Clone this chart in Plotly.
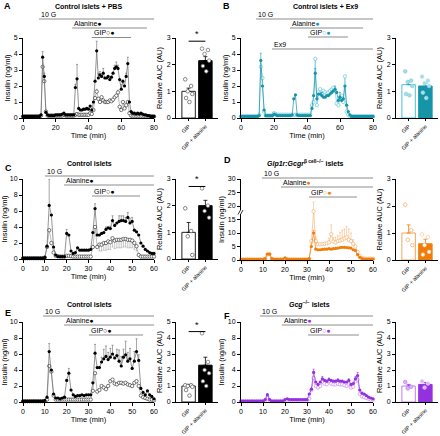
import plotly.graph_objects as go

W, H = 440, 436
FONT = "Liberation Sans, Arial, sans-serif"

t80 = list(range(81))
t60 = list(range(61))

# ---------------- Panel A (Control islets + PBS) ----------------
A_gip = [0.1, 0.1, 0.1, 0.1, 0.1, 0.1, 0.1, 0.1, 0.1, 0.1,
         0.1, 0.15, 3.2, 2.3, 0.4, 0.15, 0.15, 0.15, 0.15, 0.15,
         0.15, 0.15, 0.15, 0.15, 0.15, 0.2, 0.15, 0.15, 0.15, 0.15,
         0.15, 0.15, 0.2, 0.25, 0.2, 0.2, 0.2, 0.2, 0.2, 0.2,
         0.2, 0.3, 0.25, 0.5, 1.25, 1.65, 1.2, 1.0, 1.3, 1.1,
         1.0, 1.0, 1.0, 1.1, 1.05, 1.15, 1.3, 1.4, 1.6, 0.7,
         0.5, 1.0, 0.6, 0.8, 1.0, 0.3, 0.15, 0.1, 0.1, 0.1,
         0.1, 0.1, 0.1, 0.1, 0.1, 0.1, 0.1, 0.1, 0.1, 0.1,
         0.1]
A_ala = [0.1, 0.1, 0.1, 0.1, 0.1, 0.1, 0.1, 0.1, 0.1, 0.1,
         0.1, 0.2, 3.8, 2.6, 0.35, 0.2, 0.15, 0.15, 0.15, 0.15,
         0.2, 0.2, 0.2, 0.2, 0.25, 0.3, 0.2, 0.2, 0.2, 0.2,
         0.2, 0.2, 1.9, 2.45, 0.6, 0.5, 0.5, 0.55, 0.55, 0.6,
         0.55, 0.75, 0.5, 1.0, 2.3, 4.2, 2.5, 2.7, 2.6, 2.8,
         2.5, 2.5, 2.6, 2.4, 2.55, 2.8, 3.1, 3.2, 3.1, 2.4,
         1.8, 2.3, 2.0, 2.6, 3.4, 1.0, 0.4, 0.3, 0.3, 0.25,
         0.3, 0.25, 0.3, 0.25, 0.2, 0.2, 0.15, 0.15, 0.1, 0.1,
         0.1]
A_ala_err = {12: 0.35, 13: 0.2, 32: 0.2, 33: 0.9, 45: 0.6, 46: 0.3, 47: 0.2, 49: 0.3,
             56: 0.2, 57: 0.3, 58: 0.2, 60: 0.3, 63: 0.2, 64: 0.4}
A_gip_err = {45: 0.15, 58: 0.15}
A_auc_mean = [1.0, 2.15]
A_auc_sem = [0.12, 0.15]
A_pts_gip = [1.45, 1.2, 1.0, 0.9, 0.75, 0.6]
A_pts_ala = [2.6, 2.55, 2.4, 2.15, 1.95, 1.75]

# ---------------- Panel B (Control islets + Ex9) ----------------
B_gip = [0.1, 0.1, 0.1, 0.1, 0.1, 0.1, 0.1, 0.1, 0.1, 0.1,
         0.1, 0.2, 3.2, 2.5, 0.4, 0.15, 0.15, 0.15, 0.15, 0.15,
         0.3, 0.25, 0.2, 0.2, 0.2, 0.2, 0.2, 0.2, 0.2, 0.2,
         0.2, 0.2, 0.2, 0.2, 0.2, 0.2, 0.2, 0.2, 0.2, 0.2,
         0.2, 0.2, 0.2, 0.8, 1.0, 3.7, 0.8, 1.6, 1.8, 1.5,
         1.7, 1.6, 1.5, 1.6, 1.7, 1.8, 1.9, 1.7, 0.9, 0.8,
         1.3, 1.4, 1.0, 2.6, 0.4, 0.2, 0.1, 0.1, 0.1, 0.1,
         0.1, 0.1, 0.1, 0.1, 0.1, 0.1, 0.1, 0.1, 0.1, 0.1,
         0.1]
B_ala = [0.1, 0.1, 0.1, 0.1, 0.1, 0.1, 0.1, 0.1, 0.1, 0.1,
         0.1, 0.15, 3.6, 2.0, 0.5, 0.15, 0.15, 0.15, 0.15, 0.15,
         0.25, 0.2, 0.15, 0.15, 0.15, 0.15, 0.15, 0.15, 0.15, 0.15,
         0.15, 0.2, 1.2, 1.45, 0.2, 0.15, 0.15, 0.15, 0.15, 0.15,
         0.15, 0.15, 0.15, 0.6, 1.4, 2.8, 1.2, 1.5, 1.5, 1.4,
         1.3, 1.3, 1.4, 1.4, 1.5, 1.6, 1.7, 1.8, 1.6, 1.1,
         1.3, 1.1, 1.2, 2.0, 0.8, 0.4, 0.2, 0.1, 0.1, 0.1,
         0.1, 0.1, 0.1, 0.1, 0.1, 0.1, 0.1, 0.1, 0.1, 0.1,
         0.1]
B_ala_err = {12: 0.45, 45: 0.3, 49: 0.2, 57: 0.2, 60: 0.3}
B_gip_err = {}
B_auc_mean = [1.25, 1.2]
B_auc_sem = [0.13, 0.1]
B_pts_gip = [1.75, 1.4, 1.35, 1.2, 0.9, 0.85]
B_pts_ala = [1.55, 1.4, 1.3, 1.2, 0.95, 0.75]

# ---------------- Panel C (Control islets) ----------------
C_gip = [0.1, 0.1, 0.1, 0.1, 0.1, 0.1, 0.1, 0.1, 0.1, 0.1,
         0.2, 1.5, 3.6, 2.0, 0.8, 0.4, 0.35, 0.3, 0.3, 0.3,
         0.4, 0.4, 0.35, 0.3, 0.3, 0.3, 0.3, 0.3, 0.3, 0.3,
         0.3, 0.3, 1.5, 4.0, 1.5, 1.8, 1.8, 2.0, 2.0, 2.2,
         2.1, 2.6, 2.3, 2.4, 2.4, 2.4, 2.5, 2.5, 2.4, 2.4,
         2.3, 2.0, 1.6, 0.5, 0.3, 0.3, 0.3, 0.3, 0.3, 0.3,
         0.3]
C_ala = [0.1, 0.1, 0.1, 0.1, 0.1, 0.1, 0.1, 0.1, 0.1, 0.1,
         0.2, 1.6, 6.7, 5.5, 1.5, 0.5, 0.3, 0.3, 0.3, 0.3,
         3.2, 3.0, 1.0, 0.7, 0.8, 1.4, 1.1, 1.1, 1.1, 1.1,
         1.1, 1.2, 3.3, 6.3, 3.0, 3.0, 3.2, 3.3, 3.7, 3.9,
         3.8, 4.8, 4.2, 4.5, 4.7, 4.8, 4.8, 4.7, 5.2, 4.5,
         4.7, 3.6, 3.4, 3.0, 2.0, 1.6, 1.2, 1.0, 0.8, 0.7,
         0.7]
C_ala_err = {12: 3.3, 20: 0.5, 33: 0.6, 38: 0.3, 40: 0.3, 41: 0.6, 44: 0.7, 45: 0.6,
             46: 0.6, 47: 0.5, 48: 0.6, 49: 0.6, 50: 0.5}
C_gip_err_dn = {35: 0.8, 36: 0.8, 37: 0.9, 38: 0.9, 39: 1.0, 40: 0.9, 41: 1.1, 42: 1.0,
                43: 1.0, 44: 1.0, 45: 1.0, 46: 1.0, 47: 1.0, 48: 1.0, 49: 1.0, 50: 0.9,
                51: 0.8, 52: 0.6}
C_auc_mean = [1.0, 2.0]
C_auc_sem = [0.37, 0.2]
C_pts_gip = [1.9, 1.05, 0.85, 0.15]
C_pts_ala = [2.65, 2.0, 1.8, 1.55]

# ---------------- Panel D (Glp1r:Gcgr beta cell -/- islets) ----------------
D_gip = [0.2, 0.2, 0.2, 0.2, 0.2, 0.2, 0.2, 0.2, 0.2, 0.2,
         0.2, 0.4, 2.0, 2.2, 0.4, 0.2, 0.2, 0.2, 0.2, 0.2,
         0.4, 0.2, 0.2, 0.2, 0.2, 0.2, 0.2, 0.2, 0.2, 0.2,
         0.2, 0.4, 7.0, 18.0, 7.0, 5.8, 5.8, 5.9, 6.0, 6.2,
         6.5, 9.5, 6.8, 6.5, 7.0, 7.2, 7.5, 8.0, 8.4, 7.5,
         7.0, 6.0, 5.0, 3.0, 1.5, 0.8, 0.5, 0.5, 0.5, 0.5,
         0.5]
D_ala = [0.2, 0.2, 0.2, 0.2, 0.2, 0.2, 0.2, 0.2, 0.2, 0.2,
         0.2, 0.5, 2.2, 2.2, 0.5, 0.2, 0.2, 0.2, 0.2, 0.2,
         0.8, 0.3, 0.2, 0.2, 0.2, 0.2, 0.2, 0.2, 0.2, 0.2,
         0.2, 0.5, 5.0, 10.0, 4.0, 3.8, 3.8, 3.9, 4.0, 4.0,
         4.2, 4.0, 4.2, 4.3, 4.4, 4.6, 4.7, 4.7, 4.6, 4.5,
         4.4, 3.8, 3.5, 2.0, 1.0, 0.5, 0.3, 0.3, 0.3, 0.3,
         0.3]
D_gip_err = {33: 3.5, 34: 1.5, 40: 1.5, 41: 3.5, 42: 1.5, 43: 2.0, 44: 2.0, 45: 3.0,
             46: 3.5, 47: 3.5, 48: 4.0, 49: 4.0, 50: 3.0, 51: 1.5}
D_ala_err = {33: 1.0}
D_auc_mean = [1.0, 0.6]
D_auc_sem = [0.3, 0.17]
D_pts_gip = [2.05, 1.1, 0.75, 0.55]
D_pts_ala = [0.95, 0.85, 0.55, 0.3, 0.2]

# ---------------- Panel E (Control islets) ----------------
E_gip = [0.1, 0.1, 0.1, 0.1, 0.1, 0.1, 0.1, 0.1, 0.1, 0.1,
         0.1, 0.3, 4.5, 3.8, 0.8, 0.3, 0.3, 0.3, 0.3, 0.3,
         0.3, 0.3, 0.3, 0.3, 0.3, 0.3, 0.3, 0.3, 0.3, 0.3,
         0.3, 0.3, 1.4, 3.6, 1.3, 1.5, 2.0, 1.8, 1.6, 2.0,
         2.6, 2.8, 2.3, 2.2, 2.4, 2.4, 2.3, 2.4, 2.2, 2.1,
         2.0, 2.4, 2.6, 2.0, 0.8, 0.6, 0.5, 0.4, 0.3, 0.3,
         0.2]
E_ala = [0.1, 0.1, 0.1, 0.1, 0.1, 0.1, 0.1, 0.1, 0.1, 0.1,
         0.2, 0.6, 6.3, 4.0, 1.0, 0.5, 0.5, 0.4, 0.5, 0.6,
         2.7, 3.6, 1.5, 0.9, 0.7, 0.8, 0.8, 0.9, 0.8, 0.9,
         0.9, 0.9, 2.4, 6.1, 4.3, 4.3, 5.0, 5.4, 5.7, 5.3,
         5.6, 6.0, 5.5, 5.8, 5.1, 4.5, 5.6, 5.9, 5.1, 5.4,
         4.2, 5.1, 6.3, 5.2, 1.7, 1.2, 0.9, 1.4, 0.9, 0.7,
         0.4]
E_ala_err = {12: 1.0, 21: 0.6, 33: 1.1, 36: 0.6, 37: 1.2, 38: 1.3, 39: 0.9, 40: 1.1,
             41: 1.1, 43: 0.8, 44: 1.4, 45: 1.2, 46: 1.0, 47: 1.7, 48: 1.1, 49: 1.3,
             51: 1.2, 52: 1.6, 53: 0.7}
E_gip_err = {}
E_auc_mean = [1.0, 2.3]
E_auc_sem = [0.1, 0.5]
E_pts_gip = [1.05, 1.05, 1.0, 0.95, 0.75, 0.4]
E_pts_ala = [4.3, 2.5, 2.0, 1.8, 1.3, 1.0]

# ---------------- Panel F (Gcg -/- islets) ----------------
F_gip = [0.1, 0.1, 0.1, 0.1, 0.1, 0.1, 0.1, 0.1, 0.1, 0.1,
         0.1, 0.2, 0.6, 0.2, 0.1, 0.1, 0.1, 0.1, 0.1, 0.1,
         0.2, 0.2, 0.2, 0.2, 0.2, 0.2, 0.2, 0.2, 0.2, 0.2,
         0.2, 0.4, 1.5, 3.0, 2.0, 1.8, 2.0, 2.5, 2.3, 2.2,
         2.6, 2.3, 2.2, 2.2, 2.3, 2.2, 2.2, 2.1, 2.0, 2.2,
         1.8, 1.9, 2.6, 2.8, 1.0, 0.7, 0.6, 0.5, 0.4, 0.3,
         0.3]
F_ala = [0.1, 0.1, 0.1, 0.1, 0.1, 0.1, 0.1, 0.1, 0.1, 0.1,
         0.1, 0.3, 0.9, 0.3, 0.1, 0.1, 0.1, 0.1, 0.1, 0.1,
         0.3, 0.4, 0.3, 0.3, 0.3, 0.3, 0.3, 0.3, 0.3, 0.3,
         0.3, 1.0, 1.6, 3.7, 2.5, 2.2, 2.5, 2.9, 2.7, 2.6,
         2.8, 2.7, 2.6, 2.6, 2.7, 2.6, 2.6, 2.5, 2.5, 2.7,
         2.2, 2.3, 2.9, 3.3, 1.5, 1.1, 1.0, 0.8, 0.6, 0.5,
         0.4]
F_ala_err = {12: 0.15, 33: 0.4, 37: 0.3, 40: 0.2, 44: 0.2, 49: 0.2, 52: 0.3, 53: 0.4}
F_gip_err = {}
F_auc_mean = [1.0, 1.1]
F_auc_sem = [0.1, 0.12]
F_pts_gip = [1.25, 0.95, 0.85]
F_pts_ala = [1.3, 1.15, 0.9]

bar_labels = ["GIP", "GIP + alanine"]

# protocol intervals (label, start min, end min)
A_prot = [("10 G", 9.8, 81), ("Alanine", 30, 75.7), ("GIP", 42, 66)]
B_prot = [("10 G", 9.1, 80), ("Alanine", 29.7, 74), ("GIP", 40.6, 64.8), ("Ex9", 18.8, 80)]
C_prot = [("10 G", 10.1, 60.5), ("Alanine", 18.8, 60.5), ("GIP", 31.6, 53.6)]
D_prot = [("10 G", 9.5, 60), ("Alanine", 18.2, 60), ("GIP", 30.9, 52.7)]
E_prot = [("10 G", 9.2, 60.5), ("Alanine", 18.8, 60.5), ("GIP", 30.2, 55)]
F_prot = [("10 G", 8.6, 60), ("Alanine", 18.6, 60), ("GIP", 30.5, 53.6)]

# ---------------- figure building ----------------
fig = go.Figure()
layout = dict(shapes=[], annotations=[])


def fx(p):
    return p / W


def fy(p):
    return 1 - p / H


def names(n):
    s = "" if n == 1 else str(n)
    return "xaxis" + s, "yaxis" + s, "x" + s, "y" + s


def errs(d, n):
    return [d.get(i, 0) for i in range(n)]


base_axis = dict(showline=True, linecolor="black", linewidth=1, ticks="outside",
                 ticklen=3, tickwidth=1, tickcolor="black", showgrid=False,
                 zeroline=False, automargin=False,
                 tickfont=dict(size=7, family=FONT, color="black"))
title_font = dict(size=7.5, family=FONT, color="black")

panels = [
    dict(letter="A", title="Control islets + PBS", t=t80, gip=A_gip, ala=A_ala,
         gip_up=A_gip_err, gip_dn={}, ala_up=A_ala_err,
         mean=A_auc_mean, sem=A_auc_sem, pg=A_pts_gip, pa=A_pts_ala, prot=A_prot,
         tx=(23, 154), ty=(38, 118), bx=(176, 218), xr=80, xd=20, yr=5, yd=1, byr=3,
         ala_c="#000000", gip_c="#222222", ala_line="#666666", gip_line="#a0a0a0",
         pt_fill_g="white", pt_fill_a="white", pt_edge_g="#555555", pt_edge_a="#666666",
         star=2.88, ylines=(19, 28, 37.5, None), title_xy=(88, 6), letter_xy=(2, 6)),
    dict(letter="B", title="Control islets + Ex9", t=t80, gip=B_gip, ala=B_ala,
         gip_up=B_gip_err, gip_dn={}, ala_up=B_ala_err,
         mean=B_auc_mean, sem=B_auc_sem, pg=B_pts_gip, pa=B_pts_ala, prot=B_prot,
         tx=(241, 373), ty=(38, 118), bx=(396, 438), xr=80, xd=20, yr=5, yd=1, byr=3,
         ala_c="#1694A8", gip_c="#4EC0D2", ala_line="#1694A8", gip_line="#6CCBDA",
         pt_fill_g="#A8DEE8", pt_fill_a="#A8DEE8", pt_edge_g="#7ACFDD", pt_edge_a="#A8DEE8",
         star=None, ylines=(19, 28, 37, 49), title_xy=(325, 6), letter_xy=(221, 6)),
    dict(letter="C", title="Control islets", t=t60, gip=C_gip, ala=C_ala,
         gip_up={}, gip_dn=C_gip_err_dn, ala_up=C_ala_err,
         mean=C_auc_mean, sem=C_auc_sem, pg=C_pts_gip, pa=C_pts_ala, prot=C_prot,
         tx=(23, 154), ty=(179, 259), bx=(176, 218), xr=60, xd=10, yr=10, yd=2, byr=3,
         ala_c="#000000", gip_c="#222222", ala_line="#666666", gip_line="#a0a0a0",
         pt_fill_g="white", pt_fill_a="white", pt_edge_g="#555555", pt_edge_a="#666666",
         star=2.72, ylines=(176, 185, 196, None), title_xy=(89, 164), letter_xy=(3, 168)),
    dict(letter="D", title="<i>Glp1r:Gcgr</i><sup>β cell−/−</sup> islets", t=t60, gip=D_gip, ala=D_ala,
         gip_up=D_gip_err, gip_dn={}, ala_up=D_ala_err,
         mean=D_auc_mean, sem=D_auc_sem, pg=D_pts_gip, pa=D_pts_ala, prot=D_prot,
         tx=(241, 373), ty=(179, 260), bx=(396, 438), xr=60, xd=10, yr=30, yd=5, byr=3,
         ala_c="#F07D0A", gip_c="#F5A45A", ala_line="#F07D0A", gip_line="#F7B57A",
         pt_fill_g="white", pt_fill_a="white", pt_edge_g="#F5A45A", pt_edge_a="#F7C9A0",
         star=None, ylines=(178, 187, 197, None), title_xy=(305, 164), letter_xy=(222, 160)),
    dict(letter="E", title="Control islets", t=t60, gip=E_gip, ala=E_ala,
         gip_up=E_gip_err, gip_dn={}, ala_up=E_ala_err,
         mean=E_auc_mean, sem=E_auc_sem, pg=E_pts_gip, pa=E_pts_ala, prot=E_prot,
         tx=(23, 154), ty=(322, 402), bx=(176, 218), xr=60, xd=10, yr=10, yd=2, byr=5,
         ala_c="#000000", gip_c="#222222", ala_line="#666666", gip_line="#a0a0a0",
         pt_fill_g="white", pt_fill_a="white", pt_edge_g="#555555", pt_edge_a="#666666",
         star=4.4, ylines=(316, 325, 335, None), title_xy=(89, 304), letter_xy=(3, 313)),
    dict(letter="F", title="<i>Gcg</i><sup>−/−</sup> islets", t=t60, gip=F_gip, ala=F_ala,
         gip_up=F_gip_err, gip_dn={}, ala_up=F_ala_err,
         mean=F_auc_mean, sem=F_auc_sem, pg=F_pts_gip, pa=F_pts_ala, prot=F_prot,
         tx=(241, 373), ty=(322, 402), bx=(396, 438), xr=60, xd=10, yr=10, yd=2, byr=5,
         ala_c="#9431DF", gip_c="#C07CEE", ala_line="#9431DF", gip_line="#C990F0",
         pt_fill_g="#D9B3F5", pt_fill_a="#D9B3F5", pt_edge_g="#C07CEE", pt_edge_a="#E5CCF8",
         star=None, ylines=(316, 325, 335, None), title_xy=(309, 304), letter_xy=(222, 316)),
]

jit = [-0.2, 0.15, -0.05, 0.22, -0.15, 0.05]

for i, p in enumerate(panels):
    n_t = 2 * i + 1
    n_b = 2 * i + 2
    xa, ya, xr_, yr_ = names(n_t)
    bxa, bya, bxr, byr_ = names(n_b)
    n = len(p["t"])

    # ---- time course ----
    fig.add_trace(go.Scatter(
        x=p["t"], y=p["gip"], mode="lines+markers", xaxis=xr_, yaxis=yr_, cliponaxis=False,
        line=dict(color=p["gip_line"], width=0.7),
        marker=dict(symbol="circle", size=3.4, color="white", line=dict(color=p["gip_c"], width=0.6)),
        error_y=dict(type="data", symmetric=False, array=errs(p["gip_up"], n),
                     arrayminus=errs(p["gip_dn"], n), color=p["gip_line"], thickness=0.6, width=1)))
    fig.add_trace(go.Scatter(
        x=p["t"], y=p["ala"], mode="lines+markers", xaxis=xr_, yaxis=yr_, cliponaxis=False,
        line=dict(color=p["ala_line"], width=0.7),
        marker=dict(symbol="circle", size=3.2, color=p["ala_c"], line=dict(width=0)),
        error_y=dict(type="data", symmetric=False, array=errs(p["ala_up"], n),
                     arrayminus=[0] * n, color=p["ala_line"], thickness=0.6, width=1)))

    layout[xa] = dict(base_axis, domain=[fx(p["tx"][0]), fx(p["tx"][1])], range=[0, p["xr"]],
                      dtick=p["xd"], tick0=0, anchor=yr_,
                      title=dict(text="Time (min)", font=title_font, standoff=2))
    layout[ya] = dict(base_axis, domain=[fy(p["ty"][1]), fy(p["ty"][0])], range=[0, p["yr"]],
                      dtick=p["yd"], tick0=0, anchor=xr_,
                      title=dict(text="Insulin (ng/ml)", font=title_font, standoff=2))

    # ---- AUC bar chart ----
    fig.add_trace(go.Bar(
        x=[0, 1], y=p["mean"], width=0.8, xaxis=bxr, yaxis=byr_,
        marker=dict(color=["white", p["ala_c"]], line=dict(color=[p["gip_c"], p["ala_c"]], width=1)),
        error_y=dict(type="data", symmetric=False, array=p["sem"], arrayminus=[0, 0],
                     color=p["ala_c"], thickness=0.8, width=2)))
    fig.add_trace(go.Scatter(
        x=[0 + jit[k % len(jit)] for k in range(len(p["pg"]))], y=p["pg"], mode="markers",
        xaxis=bxr, yaxis=byr_, cliponaxis=False,
        marker=dict(size=3.6, color=p["pt_fill_g"], line=dict(color=p["pt_edge_g"], width=0.7))))
    fig.add_trace(go.Scatter(
        x=[1 + jit[k % len(jit)] for k in range(len(p["pa"]))], y=p["pa"], mode="markers",
        xaxis=bxr, yaxis=byr_, cliponaxis=False,
        marker=dict(size=3.6, color=p["pt_fill_a"], line=dict(color=p["pt_edge_a"], width=0.7))))

    layout[bxa] = dict(base_axis, domain=[fx(p["bx"][0]), fx(p["bx"][1])], range=[-0.75, 1.75],
                       tickvals=[0, 1], ticktext=bar_labels, tickangle=-45, anchor=byr_,
                       ticklen=2, tickfont=dict(size=5.5, family=FONT, color="black"))
    layout[bya] = dict(base_axis, domain=[fy(p["ty"][1]), fy(p["ty"][0])], range=[0, p["byr"]],
                       dtick=1, tick0=0, anchor=bxr,
                       title=dict(text="Relative AUC (AU)", font=title_font, standoff=3))

    if p["star"] is not None:
        layout["shapes"].append(dict(type="line", xref=bxr, yref=byr_, x0=0, x1=1,
                                     y0=p["star"], y1=p["star"],
                                     line=dict(color="black", width=1)))
        layout["annotations"].append(dict(text="*", xref=bxr, yref=byr_, x=0.5, y=p["star"],
                                          showarrow=False, font=dict(size=9, family=FONT, color="black"),
                                          yanchor="bottom", yshift=0))

    # ---- protocol bars ----
    dot_f = "<span style='color:%s'>●</span>" % p["ala_c"]
    dot_o = "<span style='color:%s'>○</span>" % p["gip_c"]
    for k, (lab, x0, x1) in enumerate(p["prot"]):
        ypx = p["ylines"][k]
        layout["shapes"].append(dict(type="line", xref=xr_, yref="paper", x0=x0, x1=x1,
                                     y0=fy(ypx), y1=fy(ypx), line=dict(color="#8c8c8c", width=1)))
        if lab == "Alanine":
            txt = lab + dot_f
        elif lab == "GIP":
            txt = lab + dot_o + dot_f
        else:
            txt = lab
        layout["annotations"].append(dict(text=txt, xref=xr_, yref="paper", x=x0, y=fy(ypx),
                                          xanchor="left", yanchor="bottom", showarrow=False,
                                          xshift=0, yshift=-1,
                                          font=dict(size=7, family=FONT, color="black")))

    # ---- titles & letters ----
    layout["annotations"].append(dict(text="<b>%s</b>" % p["title"], xref="paper", yref="paper",
                                      x=fx(p["title_xy"][0]), y=fy(p["title_xy"][1]),
                                      xanchor="center", yanchor="middle", showarrow=False,
                                      font=dict(size=7, family=FONT, color="black")))
    layout["annotations"].append(dict(text="<b>%s</b>" % p["letter"], xref="paper", yref="paper",
                                      x=fx(p["letter_xy"][0]), y=fy(p["letter_xy"][1]),
                                      xanchor="left", yanchor="middle", showarrow=False,
                                      font=dict(size=9, family=FONT, color="black")))

# axis break marks on panel D y-axis
layout["shapes"].append(dict(type="rect", xref="paper", yref="paper", x0=fx(239.5), x1=fx(242.5),
                             y0=fy(214), y1=fy(210), line=dict(width=0), fillcolor="white"))
for off in (0, 2.5):
    layout["shapes"].append(dict(type="line", xref="paper", yref="paper",
                                 x0=fx(239 + off - 1), x1=fx(241.5 + off - 1),
                                 y0=fy(214.5), y1=fy(210), line=dict(color="black", width=0.8)))

fig.update_layout(width=W, height=H, margin=dict(l=0, r=0, t=0, b=0),
                  paper_bgcolor="white", plot_bgcolor="white", showlegend=False,
                  font=dict(family=FONT, size=7, color="black"), **layout)

fig.write_html("out.html", config={"displayModeBar": False},
               post_script="document.body.style.margin='0';document.body.style.padding='0';"
                           "document.body.style.overflow='hidden';")
